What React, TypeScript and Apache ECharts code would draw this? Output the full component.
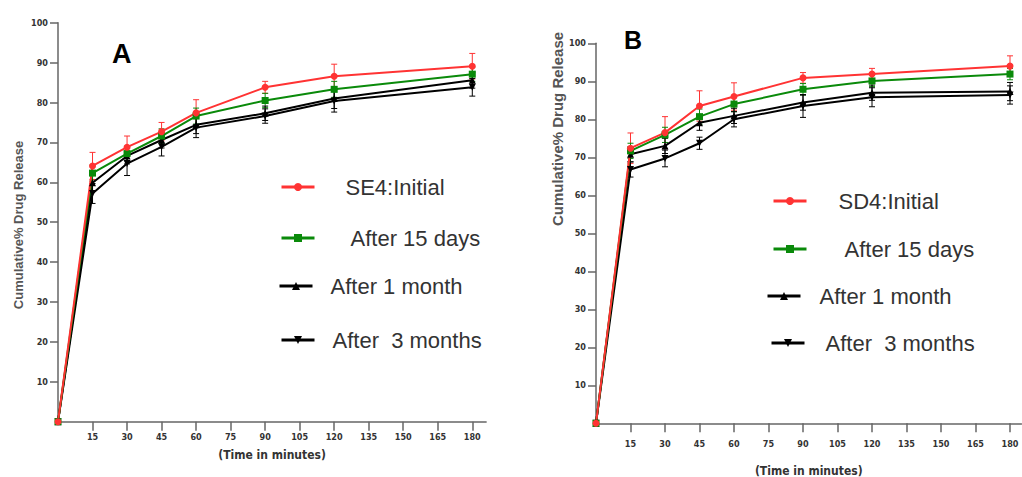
import React, { useEffect, useRef } from "react";
import * as echarts from "echarts";

const times = [0, 15, 30, 45, 60, 90, 120, 180];
const xTickValues = [15, 30, 45, 60, 75, 90, 105, 120, 135, 150, 165, 180];
const yTickValues = [10, 20, 30, 40, 50, 60, 70, 80, 90, 100];

// Panel A (SE4)
const aInitial = [0, 64.1, 68.8, 72.7, 77.4, 83.8, 86.6, 89.1];
const a15days = [0, 62.3, 67.2, 71.6, 76.6, 80.5, 83.3, 87.1];
const a1month = [0, 59.9, 66.6, 70.6, 74.4, 77.3, 81.0, 85.6];
const a3months = [0, 57.2, 64.7, 68.9, 73.7, 76.6, 80.4, 83.8];
const aInitialErr = [0, 3.4, 2.8, 2.3, 3.3, 1.5, 3.0, 3.2];
const a15daysErr = [0, 2.0, 1.8, 1.8, 2.0, 1.8, 2.0, 1.8];
const a1monthErr = [0, 2.0, 2.0, 2.0, 2.2, 1.8, 2.5, 2.0];
const a3monthsErr = [0, 2.5, 3.0, 2.3, 2.5, 1.8, 2.8, 2.2];

// Panel B (SD4)
const bInitial = [0, 72.4, 76.5, 83.5, 86.0, 90.9, 91.9, 94.0];
const b15days = [0, 71.7, 75.9, 80.7, 84.0, 87.9, 90.1, 91.9];
const b1month = [0, 70.8, 73.0, 79.1, 80.9, 84.4, 87.0, 87.3];
const b3months = [0, 66.8, 69.7, 73.7, 80.0, 83.5, 85.8, 86.4];
const bInitialErr = [0, 4.0, 4.2, 4.0, 3.6, 1.4, 1.5, 2.7];
const b15daysErr = [0, 2.0, 2.0, 2.0, 2.0, 1.5, 1.5, 1.5];
const b1monthErr = [0, 2.0, 2.0, 2.0, 2.0, 2.0, 2.0, 2.4];
const b3monthsErr = [0, 2.0, 2.2, 1.6, 2.0, 3.0, 2.5, 2.4];

const namesA = ["SE4:Initial", "After 15 days", "After 1 month", "After  3 months"];
const namesB = ["SD4:Initial", "After 15 days", "After 1 month", "After  3 months"];

const RED = "#ff3333";
const GREEN = "#0a8a0a";
const BLACK = "#000000";

const tickFont = "'Liberation Sans Narrow', 'DejaVu Sans Condensed', 'Liberation Sans', sans-serif";
const textFont = "'Liberation Sans', Arial, sans-serif";

type Style = { color: string; symbol: string; rotate: number };
const styles: Style[] = [
  { color: RED, symbol: "circle", rotate: 0 },
  { color: GREEN, symbol: "rect", rotate: 0 },
  { color: BLACK, symbol: "triangle", rotate: 0 },
  { color: BLACK, symbol: "triangle", rotate: 180 },
];

function lineSeries(name: string, values: number[], st: Style, idx: number) {
  return {
    type: "line",
    name,
    xAxisIndex: idx,
    yAxisIndex: idx,
    data: times.map((t, i) => [t, values[i]]),
    symbol: st.symbol,
    symbolRotate: st.rotate,
    symbolSize: 7,
    showSymbol: true,
    lineStyle: { color: st.color, width: 2 },
    itemStyle: { color: st.color },
    z: 3,
  };
}

function errSeries(name: string, values: number[], errs: number[], color: string, idx: number) {
  return {
    type: "custom",
    name: name + " error",
    xAxisIndex: idx,
    yAxisIndex: idx,
    z: 2,
    data: times.map((t, i) => [t, values[i], errs[i]]).filter((d) => d[2] > 0),
    renderItem: (params: any, api: any) => {
      const x = api.value(0);
      const y = api.value(1);
      const e = api.value(2);
      const hi = api.coord([x, y + e]);
      const lo = api.coord([x, y - e]);
      const cw = 3;
      const st = { stroke: color, lineWidth: 1 };
      return {
        type: "group",
        children: [
          { type: "line", shape: { x1: hi[0], y1: hi[1], x2: lo[0], y2: lo[1] }, style: st },
          { type: "line", shape: { x1: hi[0] - cw, y1: hi[1], x2: hi[0] + cw, y2: hi[1] }, style: st },
          { type: "line", shape: { x1: lo[0] - cw, y1: lo[1], x2: lo[0] + cw, y2: lo[1] }, style: st },
        ],
      };
    },
  };
}

function xAxis(idx: number, max: number) {
  return {
    type: "value",
    gridIndex: idx,
    min: 0,
    max,
    interval: 15,
    name: "(Time in minutes)",
    nameLocation: "middle",
    nameGap: idx === 0 ? 27 : 42,
    nameTextStyle: { fontFamily: tickFont, fontWeight: "bold", fontSize: 12, color: "#333" },
    axisLine: { show: true, onZero: false, lineStyle: { color: "#666", width: 1.5 } },
    axisTick: { show: true, inside: false, length: 9, customValues: xTickValues, lineStyle: { color: "#666", width: 1.5 } },
    axisLabel: { customValues: xTickValues, margin: idx === 0 ? 11 : 16, fontFamily: tickFont, fontWeight: "bold", fontSize: 9, color: "#333" },
    splitLine: { show: false },
  };
}

function yAxis(idx: number) {
  return {
    type: "value",
    gridIndex: idx,
    min: 0,
    max: 100,
    interval: 10,
    axisLine: { show: true, onZero: false, lineStyle: { color: "#666", width: 1.5 } },
    axisTick: { show: true, inside: false, length: 8, customValues: yTickValues, lineStyle: { color: "#666", width: 1.5 } },
    axisLabel: { customValues: yTickValues, margin: 10, fontFamily: tickFont, fontWeight: "bold", fontSize: 9, color: "#333" },
    splitLine: { show: false },
  };
}

const legendPosA = [
  { left: 280, cy: 189, pad: 26 },
  { left: 280, cy: 240, pad: 31 },
  { left: 278, cy: 288, pad: 13 },
  { left: 280, cy: 342, pad: 13 },
];
const legendPosB = [
  { left: 772, cy: 203, pad: 27 },
  { left: 772, cy: 251, pad: 33 },
  { left: 766, cy: 298, pad: 14 },
  { left: 770, cy: 345, pad: 16 },
];

function legends(names: string[], pos: { left: number; cy: number; pad: number }[]) {
  return names.map((n, i) => ({
    data: [n],
    left: pos[i].left,
    top: pos[i].cy - 13,
    padding: 0,
    itemWidth: 33,
    itemHeight: 10,
    selectedMode: false,
    lineStyle: { width: 3 },
    textStyle: { fontSize: 22, color: "#333", fontFamily: textFont, padding: [0, 0, 0, pos[i].pad] },
  }));
}

const option: any = {
  animation: false,
  backgroundColor: "#ffffff",
  grid: [
    { left: 58, top: 22.7, width: 428.1, height: 399, outerBoundsMode: "none", containLabel: false },
    { left: 596, top: 43.3, width: 425.5, height: 380, outerBoundsMode: "none", containLabel: false },
  ],
  xAxis: [xAxis(0, 186), xAxis(1, 185)],
  yAxis: [yAxis(0), yAxis(1)],
  legend: [...legends(namesA, legendPosA), ...legends(namesB, legendPosB)],
  graphic: [
    { type: "text", left: 112, top: 40, style: { text: "A", fontSize: 27, fontWeight: "bold", fill: "#000", fontFamily: textFont } },
    { type: "text", left: 624, top: 27, style: { text: "B", fontSize: 25, fontWeight: "bold", fill: "#000", fontFamily: textFont } },
    { type: "text", x: 18, y: 225, rotation: Math.PI / 2, style: { text: "Cumulative% Drug Release", fontSize: 13, fontWeight: "bold", fill: "#555", fontFamily: textFont, align: "center", verticalAlign: "middle" } },
    { type: "text", x: 557, y: 129, rotation: Math.PI / 2, style: { text: "Cumulative% Drug Release", fontSize: 15, fontWeight: "bold", fill: "#555", fontFamily: textFont, align: "center", verticalAlign: "middle" } },
  ],
  series: [
    errSeries(namesA[0], aInitial, aInitialErr, RED, 0),
    errSeries(namesA[1], a15days, a15daysErr, GREEN, 0),
    errSeries(namesA[2], a1month, a1monthErr, BLACK, 0),
    errSeries(namesA[3], a3months, a3monthsErr, BLACK, 0),
    lineSeries(namesA[3], a3months, styles[3], 0),
    lineSeries(namesA[2], a1month, styles[2], 0),
    lineSeries(namesA[1], a15days, styles[1], 0),
    lineSeries(namesA[0], aInitial, styles[0], 0),
    errSeries(namesB[0], bInitial, bInitialErr, RED, 1),
    errSeries(namesB[1], b15days, b15daysErr, GREEN, 1),
    errSeries(namesB[2], b1month, b1monthErr, BLACK, 1),
    errSeries(namesB[3], b3months, b3monthsErr, BLACK, 1),
    lineSeries(namesB[3], b3months, styles[3], 1),
    lineSeries(namesB[2], b1month, styles[2], 1),
    lineSeries(namesB[1], b15days, styles[1], 1),
    lineSeries(namesB[0], bInitial, styles[0], 1),
  ],
};

export default function App() {
  const ref = useRef<HTMLDivElement>(null);
  useEffect(() => {
    document.body.style.margin = "0";
    const chart = echarts.init(ref.current!, null, { renderer: "svg" });
    chart.setOption(option);
    return () => chart.dispose();
  }, []);
  return <div ref={ref} style={{ width: 1022, height: 477 }} />;
}
